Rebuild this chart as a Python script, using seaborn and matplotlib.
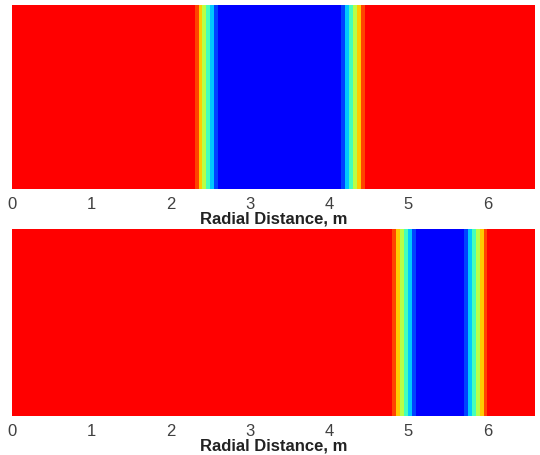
import numpy as np
import pandas as pd
import matplotlib
matplotlib.use("Agg")
import matplotlib.pyplot as plt
import seaborn as sns
from matplotlib.colors import LinearSegmentedColormap

sns.set_style("white")
plt.rcParams["font.family"] = ["Liberation Sans", "DejaVu Sans"]

# radial cell size of the saturation grid, m
dr = 0.05

# run-length encoded saturation profiles (value, number of cells) along the radius
top_levels = [1.0, 0.917, 0.75, 0.583, 0.417, 0.25, 0.083, 0.0,
              0.083, 0.25, 0.417, 0.583, 0.75, 0.917, 1.0]
top_counts = [46, 1, 1, 1, 1, 1, 1, 31, 1, 1, 1, 1, 1, 1, 43]

bottom_levels = [1.0, 0.917, 0.75, 0.583, 0.417, 0.25, 0.083, 0.0,
                 0.083, 0.25, 0.417, 0.583, 0.75, 0.917, 1.0]
bottom_counts = [96, 1, 1, 1, 1, 1, 1, 12, 1, 1, 1, 1, 1, 1, 12]

radius_ticks = [0, 1, 2, 3, 4, 5, 6]
xlabel = "Radial Distance, m"

# jet-like map without its dark ends: pure blue -> cyan -> green -> yellow -> pure red
cmap = LinearSegmentedColormap.from_list(
    "jet_core",
    [(0.0, (0, 0, 1)), (0.32, (0, 1, 1)), (0.5, (0.5, 1, 0.5)),
     (0.69, (1, 1, 0)), (1.0, (1, 0, 0))])

fig = plt.figure(figsize=(5.4, 4.56), dpi=100)
ax_top = fig.add_axes([0.0231, 0.5833, 0.9676, 0.4035])
ax_bot = fig.add_axes([0.0231, 0.0855, 0.9676, 0.4100])

for ax, levels, counts in [(ax_top, top_levels, top_counts),
                           (ax_bot, bottom_levels, bottom_counts)]:
    profile = np.repeat(levels, counts)
    df = pd.DataFrame([profile])
    sns.heatmap(df, ax=ax, cmap=cmap, vmin=0, vmax=1, cbar=False,
                xticklabels=False, yticklabels=False)
    ax.set_xticks(np.array(radius_ticks) / dr)
    ax.set_xticklabels([str(t) for t in radius_ticks], fontsize=12,
                       color="#404040")
    ax.tick_params(axis="x", length=0, pad=5, rotation=0)
    ax.set_yticks([])
    ax.set_xlabel(xlabel, fontsize=12, fontweight="bold", color="#222222",
                  labelpad=0)
    ax.set_ylabel("")
    for s in ax.spines.values():
        s.set_visible(False)

fig.savefig("out.png", dpi=100)
